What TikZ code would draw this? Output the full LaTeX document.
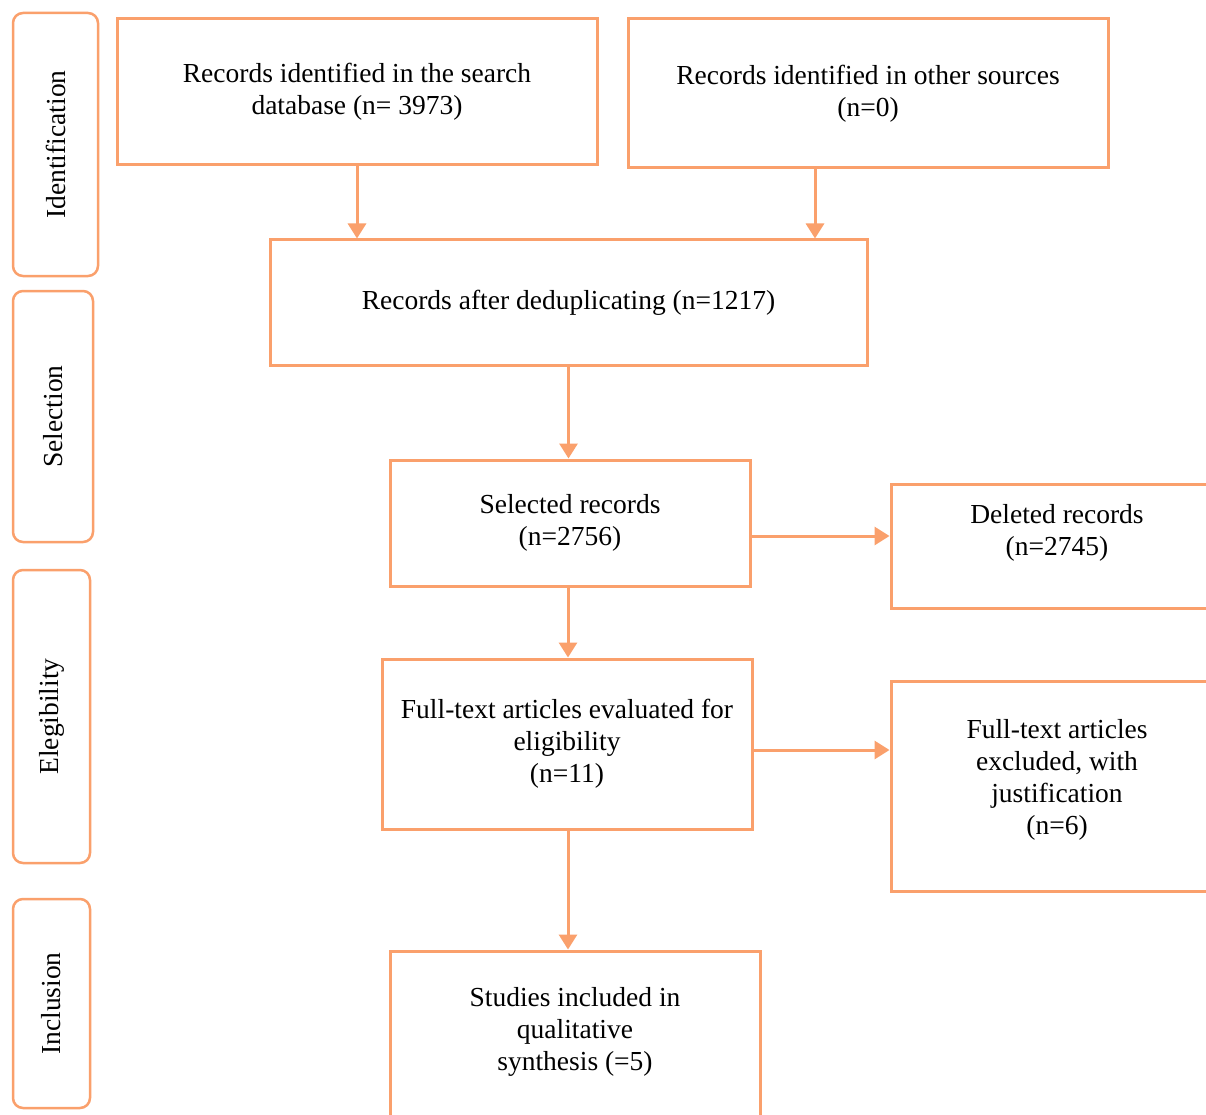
\documentclass[tikz,border=0pt]{standalone}
\usepackage{fontspec}
\setmainfont{Liberation Serif}
\usetikzlibrary{arrows.meta}
\definecolor{prisma}{RGB}{250,160,108}
\begin{document}
\begin{tikzpicture}[x=1pt,y=-1pt,
  every node/.style={font=\fontsize{27.5}{32}\selectfont, text=black},
  box/.style={draw=prisma, line width=3pt, align=center, inner sep=0pt},
  side/.style={draw=prisma, line width=2.5pt, rounded corners=10pt, rotate=90, inner sep=0pt},
  flow/.style={draw=prisma, line width=3pt, -{Triangle[length=15pt,width=18pt]}}]
\useasboundingbox (0,0) rectangle (1206,1115);
\clip (0,0) rectangle (1206,1115);
\fill[white] (0,0) rectangle (1206,1115);

% stage labels
\node[side, minimum width=263pt, minimum height=85pt] (id) at (55.5,144.5) {Identification};
\node[side, minimum width=251pt, minimum height=80pt] (sel) at (53,416.5) {Selection};
\node[side, minimum width=293pt, minimum height=77pt] (eli) at (51.5,716.5) {Elegibility};
\node[side, minimum width=209pt, minimum height=77pt] (inc) at (51.5,1003.5) {Inclusion};

% boxes
\node[box, minimum width=480pt, minimum height=146pt] (A) at (357,92) {Records identified in the search\\database (n= 3973)};
\node[box, minimum width=480pt, minimum height=149pt] (B) at (868,93.5) {Records identified in other sources\\(n=0)};
\node[box, minimum width=597pt, minimum height=125pt] (C) at (568.5,302.5) {Records after deduplicating (n=1217)};
\node[box, minimum width=360pt, minimum height=126pt] (D) at (570,523) {Selected records\\(n=2756)};
\node[box, minimum width=332pt, minimum height=124pt] (E) at (1057,546) {Deleted records\\(n=2745)\\\mbox{}};
\node[box, minimum width=370pt, minimum height=170pt] (F) at (567,744) {Full-text articles evaluated for\\eligibility\\(n=11)};
\node[box, minimum width=332pt, minimum height=210pt] (G) at (1057,786) {Full-text articles\\excluded, with\\justification\\(n=6)\\[-14pt]\mbox{}};
\node[box, minimum width=370pt, minimum height=220pt] (H) at (575,1061) {Studies included in\\qualitative\\synthesis (=5)\\\mbox{}\\\mbox{}};

% connectors
\draw[flow] (A.south) -- (A.south |- C.north);
\draw[flow] ([xshift=-53pt]B.south) -- ([xshift=-53pt]B.south |- C.north);
\draw[flow] (C.south) -- (C.south |- D.north);
\draw[flow] ([yshift=-13pt]D.east) -- ([yshift=-13pt]D.east -| E.west);
\draw[flow] ([xshift=-2pt]D.south) -- ([xshift=-2pt]D.south |- F.north);
\draw[flow] ([yshift=-6pt]F.east) -- ([yshift=-6pt]F.east -| G.west);
\draw[flow] ([xshift=1pt]F.south) -- ([xshift=1pt]F.south |- H.north);
\end{tikzpicture}
\end{document}
